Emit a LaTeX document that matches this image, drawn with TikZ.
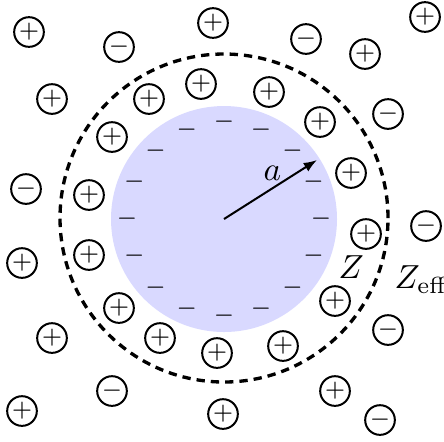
\documentclass[tikz,border=0pt]{standalone}
\usetikzlibrary{arrows.meta}
\begin{document}
\begin{tikzpicture}[x=0.3pt,y=-0.3pt,
  ion/.style={circle,draw,line width=0.6pt,minimum size=8.9pt,inner sep=0pt,font=\fontsize{7.5}{8}\selectfont},
  chg/.style={inner sep=0pt,font=\fontsize{7}{8}\selectfont},
  shellline/.style={circle,draw,line width=1pt,dash pattern=on 2.5pt off 1.8pt,minimum size=98.4pt,inner sep=0pt},
  corefill/.style={circle,fill=blue!15,minimum size=67.8pt,inner sep=0pt},
  lbl/.style={inner sep=0pt,anchor=base west,font=\fontsize{10}{12}\selectfont}]
\useasboundingbox (0,0) rectangle (444,441);
\node[corefill] (core) at (224,219) {};
\node[shellline] (shell) at (224,218) {};
\foreach \k in {0,...,15}
  \node[chg] (m\k) at ({224+97*cos(\k*22.5)},{219+97*sin(\k*22.5)}) {$-$};
\foreach \x/\y/\s [count=\n] in {
  29/32/+, 119/47/-, 213/23/+, 306/39/-, 365/54/+, 425/17/+,
  52/99/+, 149/99/+, 201/84/+, 269/92/+, 320/122/+, 388/114/-,
  112/137/+, 351/173/+, 26/189/-, 89/195/+, 366/234/+, 426/226/-,
  22/263/+, 89/255/+, 335/301/+, 388/330/-, 119/308/+, 52/338/+,
  160/338/+, 217/353/+, 283/346/+, 112/391/-, 22/411/+, 223/414/+,
  335/391/+, 380/420/-}
  \node[ion] (i\n) at (\x,\y) {$\s$};
\coordinate (tip) at (317,160);
\draw[line width=0.6pt,-{Latex[length=4pt,width=3pt]}] (core.center) -- (tip);
\node[lbl] (la) at (263,180) {$a$};
\node[lbl] (lz) at (338,278) {$Z$};
\node[lbl] (lzeff) at (394,288) {$Z_{\mathrm{eff}}$};
\end{tikzpicture}
\end{document}
